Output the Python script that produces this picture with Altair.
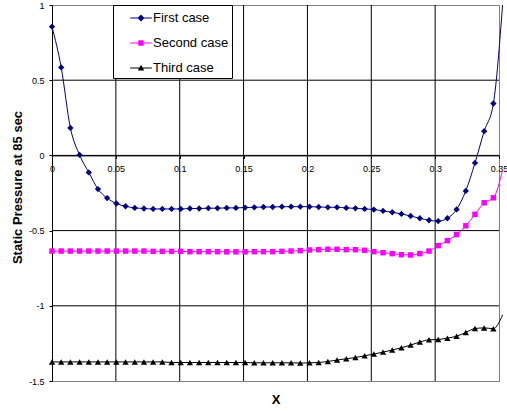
import altair as alt
import pandas as pd

# ---- data ----
x_vals = [0, 0.0072, 0.0144, 0.0216, 0.0288, 0.036, 0.0432, 0.0504, 0.0576, 0.0648,
          0.072, 0.0792, 0.0864, 0.0936, 0.1008, 0.108, 0.1152, 0.1224, 0.1296, 0.1368,
          0.144, 0.1512, 0.1584, 0.1656, 0.1728, 0.18, 0.1872, 0.1944, 0.2016, 0.2088,
          0.216, 0.2232, 0.2304, 0.2376, 0.2448, 0.252, 0.2592, 0.2664, 0.2736, 0.2808,
          0.288, 0.2952, 0.3024, 0.3096, 0.3168, 0.324, 0.3312, 0.3384, 0.3456, 0.3528]

first_case = [0.856, 0.585, 0.183, 0.003, -0.113, -0.224, -0.284, -0.320, -0.338, -0.349,
              -0.353, -0.356, -0.356, -0.356, -0.356, -0.353, -0.353, -0.351, -0.351, -0.349,
              -0.349, -0.347, -0.345, -0.343, -0.343, -0.341, -0.341, -0.341, -0.341, -0.343,
              -0.345, -0.345, -0.349, -0.352, -0.356, -0.360, -0.369, -0.378, -0.389, -0.403,
              -0.418, -0.431, -0.437, -0.418, -0.359, -0.236, -0.050, 0.161, 0.345, 1.0]

second_case = [-0.636, -0.636, -0.636, -0.636, -0.636, -0.636, -0.636, -0.636, -0.636, -0.636,
               -0.636, -0.638, -0.638, -0.638, -0.638, -0.640, -0.640, -0.640, -0.640, -0.641,
               -0.641, -0.641, -0.640, -0.640, -0.640, -0.638, -0.636, -0.633, -0.629, -0.627,
               -0.624, -0.624, -0.627, -0.627, -0.631, -0.640, -0.647, -0.653, -0.660, -0.662,
               -0.653, -0.636, -0.600, -0.567, -0.526, -0.468, -0.392, -0.315, -0.282, -0.10]

third_case = [-1.373, -1.373, -1.373, -1.373, -1.373, -1.373, -1.373, -1.373, -1.373, -1.373,
              -1.373, -1.373, -1.373, -1.377, -1.377, -1.377, -1.377, -1.377, -1.377, -1.377,
              -1.377, -1.377, -1.379, -1.379, -1.379, -1.379, -1.379, -1.381, -1.379, -1.377,
              -1.370, -1.361, -1.352, -1.344, -1.332, -1.321, -1.308, -1.294, -1.279, -1.261,
              -1.241, -1.226, -1.224, -1.215, -1.202, -1.177, -1.151, -1.147, -1.152, -1.06]

series_names = ["First case", "Second case", "Third case"]
series_colors = ["#000080", "#FF00FF", "#000000"]
series_shapes = ["diamond", "square", "triangle-up"]
series_sizes = [40, 30, 40]
legend_paths = [
    "M-1.08,-0.05H1.08V0.05H-1.08ZM0,-0.35L0.35,0L0,0.35L-0.35,0Z",
    "M-1.08,-0.05H1.08V0.05H-1.08ZM-0.27,-0.27H0.27V0.27H-0.27Z",
    "M-1.08,-0.05H1.08V0.05H-1.08ZM0,-0.32L0.32,0.26H-0.32Z",
]

x_ticks = [0, 0.05, 0.1, 0.15, 0.2, 0.25, 0.3, 0.35]
y_ticks = [-1.5, -1, -0.5, 0, 0.5, 1]
x_grid = [0.05, 0.1, 0.15, 0.2, 0.25, 0.3]
y_grid = [-1, -0.5, 0, 0.5]

rows = []
for name, vals in zip(series_names, [first_case, second_case, third_case]):
    for xv, v in zip(x_vals, vals):
        rows.append({"x": xv, "value": v, "series": name})
df = pd.DataFrame(rows)

W, H = 447, 376
FONT = "Liberation Sans"
x_scale = alt.Scale(domain=[0, 0.35], nice=False, zero=False)
y_scale = alt.Scale(domain=[-1.5, 1], nice=False, zero=False)

x_axis = alt.Axis(
    values=x_ticks, labelExpr="'' + datum.value", offset=-0.6 * H, grid=False,
    domain=True, domainColor="#000", tickColor="#000", tickSize=3,
    labelFont=FONT, labelFontSize=9, labelColor="#000", labelPadding=6,
    labelFlush=False, labelOverlap=False,
    title="X", titleFont=FONT, titleFontSize=13, titleFontWeight="bold", titleColor="#000",
    titleX=W / 2, titleY=248, titleBaseline="alphabetic", titleAlign="center",
)
y_axis = alt.Axis(
    values=y_ticks, labelExpr="'' + datum.value", grid=False,
    domain=True, domainColor="#000", tickColor="#000", tickSize=3,
    labelFont=FONT, labelFontSize=9, labelColor="#000", labelPadding=5,
    labelFlush=False, labelOverlap=False,
    title="Static Pressure at 85 sec", titleFont=FONT, titleFontSize=13,
    titleFontWeight="bold", titleColor="#000", titleAngle=-90,
    titleX=-35, titleY=182, titleAlign="center", titleBaseline="middle",
)

X_ENC = lambda f: alt.X(f, scale=x_scale, axis=x_axis)
Y_ENC = lambda f: alt.Y(f, scale=y_scale, axis=y_axis)

layers = []

vgrid = alt.Chart(pd.DataFrame({"gx": x_grid})).mark_rule(color="#000", strokeWidth=1).encode(
    x=X_ENC("gx:Q"))
hgrid = alt.Chart(pd.DataFrame({"gy": y_grid})).mark_rule(color="#000", strokeWidth=1).encode(
    y=Y_ENC("gy:Q"))
layers += [vgrid, hgrid]

for name, col, shp, sz in zip(series_names, series_colors, series_shapes, series_sizes):
    line = alt.Chart(df).transform_filter(alt.datum.series == name).mark_line(
        color=col, strokeWidth=1, interpolate="monotone", clip=False
    ).encode(x=X_ENC("x:Q"), y=Y_ENC("value:Q"))
    pts = alt.Chart(df).transform_filter(
        (alt.datum.series == name) & (alt.datum.x <= 0.35)
    ).mark_point(shape=shp, filled=True, color=col, size=sz, opacity=1).encode(
        x=X_ENC("x:Q"), y=Y_ENC("value:Q"))
    layers += [line, pts]

legend = alt.Legend(
    orient="none", legendX=61, legendY=0, title=None, padding=3, symbolOffset=15,
    rowPadding=8, symbolSize=400, symbolStrokeWidth=0, labelOffset=2,
    labelFont=FONT, labelFontSize=13, labelColor="#000",
    labelExpr="datum.label + '       '", strokeColor="#000", fillColor="#fff",
)
legend_layer = alt.Chart(pd.DataFrame({"series": series_names})).transform_filter(
    "false"
).mark_point(filled=True, opacity=1).encode(
    color=alt.Color("series:N", scale=alt.Scale(domain=series_names, range=series_colors), legend=legend),
    shape=alt.Shape("series:N", scale=alt.Scale(domain=series_names, range=legend_paths), legend=legend),
)
layers.append(legend_layer)

chart = alt.layer(*layers).properties(
    width=W, height=H,
    padding={"left": 52, "top": 5, "right": 8, "bottom": 30},
    autosize=alt.AutoSizeParams(type="none"),
).configure_view(stroke="#808080", strokeWidth=1)

chart.save("out.html", embed_options={"renderer": "svg", "actions": False})
